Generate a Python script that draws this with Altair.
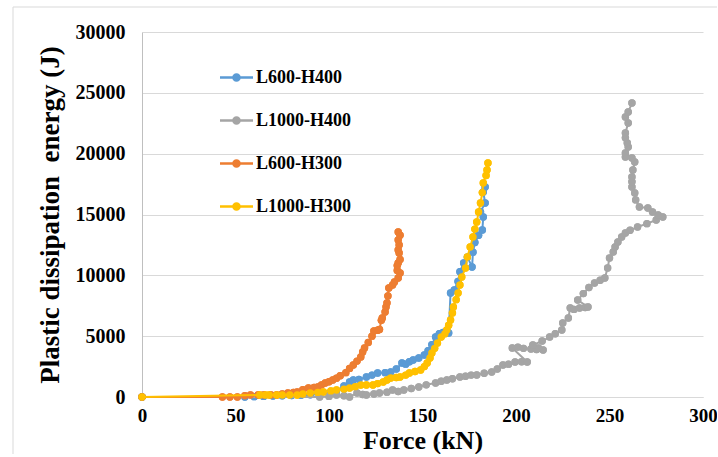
import altair as alt
import pandas as pd

series_names = ["L600-H400", "L1000-H400", "L600-H300", "L1000-H300"]
series_colors = ["#5B9BD5", "#A5A5A5", "#ED7D31", "#FFC000"]
y_ticks = [0, 5000, 10000, 15000, 20000, 25000, 30000]
x_ticks = [0, 50, 100, 150, 200, 250, 300]

# L600-H400 (blue)
blue_force = [0, 55, 60, 65, 70, 75, 80, 85, 90, 95, 100, 104, 108, 111, 113, 116, 120, 123, 126, 130,
              133, 136, 139, 141, 143, 145, 148, 151, 153, 155, 157, 159, 161, 163, 164, 165, 167, 169,
              170, 172, 174, 176.5, 177, 178, 180, 182, 182.5, 181, 183.5, 182.5, 183.5]
blue_energy = [0, 0, 30, 50, 80, 100, 120, 150, 180, 230, 300, 500, 900, 1230, 1400, 1450, 1640, 1800,
               1970, 2000, 2050, 2300, 2790, 2700, 2900, 3040, 3200, 3450, 3800, 4300, 4930, 5200, 5300,
               5340, 5260, 8550, 8800, 9500, 10300, 11010, 11500, 10690, 11900, 12700, 13300, 13730,
               14800, 15200, 15950, 16850, 17260]

# L1000-H400 (grey)
grey_force = [0, 95, 100, 104, 108, 111, 115, 118, 120, 124, 127, 131, 134, 137, 140, 144, 148, 152, 157,
              160, 163, 166, 170, 173, 176, 179, 183, 187, 190, 193, 196, 199.5, 203, 206, 198, 201, 204,
              208, 211, 214.5, 212, 209, 214, 218, 221, 224.5, 225, 228, 229, 231, 234, 237, 238.5, 233,
              236, 239, 242, 245, 247.5, 249, 250, 252, 253, 254.5, 256.5, 258.5, 261, 265, 270, 275,
              278.5, 276, 273, 270.5, 266, 264, 263.5, 262, 262, 262, 262.5, 263.5, 262, 258.5, 258.5,
              260, 259.5, 258.5, 258.5, 260, 258.5, 260, 262]
grey_energy = [0, 0, 50, 160, 100, 0, 330, 200, 160, 250, 330, 400, 575, 450, 575, 700, 820, 1000, 1150,
               1300, 1400, 1500, 1640, 1700, 1800, 1810, 1950, 2050, 2300, 2630, 2700, 2880, 2900, 2880,
               4030, 4100, 4000, 3950, 3900, 3860, 4030, 4270, 4600, 4930, 5200, 5510, 6080, 6490, 7320,
               7200, 7320, 7350, 7400, 7970, 8500, 9000, 9370, 9600, 9780, 10600, 11420, 11920, 12330,
               12740, 13150, 13480, 13700, 13970, 14250, 14550, 14790, 14960, 15200, 15530, 15620, 16200,
               16770, 17260, 17700, 18080, 18660, 19310, 19640, 19730, 20050, 20550, 20880, 21300, 21700,
               22520, 23010, 23420, 24160]

# L600-H300 (orange)
orange_force = [0, 43, 47, 51, 55, 58, 62, 65, 69, 72, 75, 78, 81, 83, 86, 89, 92, 94, 96, 98, 100, 102,
                104, 106, 109, 111, 113, 115, 117, 118, 119, 121, 123, 124, 126, 127, 128, 128.5, 130,
                130.5, 131, 131.5, 132, 134, 135, 137, 138, 136.5, 136.5, 137, 138, 137.5, 137, 137.5,
                137, 138, 137]
orange_energy = [0, 0, 0, 0, 100, 160, 160, 160, 160, 160, 250, 330, 380, 410, 600, 740, 780, 820, 1000,
                 1150, 1250, 1400, 1550, 1750, 2000, 2350, 2630, 2950, 3290, 3700, 4030, 4480, 5000, 5420,
                 5480, 5550, 6300, 6500, 6990, 7400, 7730, 8300, 8960, 9200, 9450, 9780, 10190, 10400,
                 10800, 11010, 11300, 11840, 12080, 12500, 12900, 13300, 13560]

# L1000-H300 (yellow)
yellow_force = [0, 63, 66, 68, 72, 75, 79, 83, 86, 90, 94, 97, 101, 104, 108, 111, 114, 117, 120, 123.5,
                126, 129, 131, 133, 136, 138, 141, 143, 146, 149, 151, 152.5, 154, 155, 156.5, 158, 160,
                162, 163, 164, 165, 166, 166.5, 168, 169, 170, 171, 173, 174, 175.5, 177, 178, 179, 180,
                181, 182, 182.5, 184, 184.5, 185]
yellow_energy = [0, 160, 160, 160, 160, 160, 160, 160, 250, 330, 380, 410, 500, 575, 650, 740, 850, 990,
                 990, 990, 1100, 1230, 1400, 1560, 1600, 1640, 1800, 1970, 2100, 2220, 2500, 2790, 3200,
                 3620, 4000, 4440, 4930, 5200, 5510, 5900, 6330, 6900, 7400, 8000, 8550, 9200, 9860,
                 10600, 11510, 12330, 13150, 13800, 14380, 15200, 15950, 16800, 17590, 18200, 18660, 19230]

series_data = [
    (series_names[0], blue_force, blue_energy),
    (series_names[1], grey_force, grey_energy),
    (series_names[2], orange_force, orange_energy),
    (series_names[3], yellow_force, yellow_energy),
]

rows = []
for name, xs, ys in series_data:
    for i, (xv, yv) in enumerate(zip(xs, ys)):
        rows.append({"series": name, "force": xv, "energy": yv, "idx": i})
df = pd.DataFrame(rows)

FONT = "Liberation Serif"

x_enc = alt.X(
    "force:Q",
    scale=alt.Scale(domain=[0, 300], nice=False),
    axis=alt.Axis(
        values=x_ticks, grid=False, ticks=False, domain=True, domainColor="#D9D9D9",
        labelFlush=False, labelOverlap=False,
        labelFont=FONT, labelFontWeight="bold", labelFontSize=19, labelColor="black",
        labelPadding=9, title="Force (kN)", titleFont=FONT, titleFontWeight="bold",
        titleFontSize=26, titleColor="black", titleBaseline="alphabetic", titleY=51,
        titleX=280.5, titleAlign="center",
    ),
)
y_enc = alt.Y(
    "energy:Q",
    scale=alt.Scale(domain=[0, 30000], nice=False),
    axis=alt.Axis(
        values=y_ticks, format="d", grid=True, gridColor="#D9D9D9", ticks=False,
        domain=True, domainColor="#BFBFBF", labelFlush=False, labelOverlap=False,
        labelFont=FONT, labelFontWeight="bold", labelFontSize=20, labelColor="black",
        labelPadding=17, title="Plastic dissipation\u00a0\u00a0energy (J)", titleFont=FONT,
        titleFontWeight="bold", titleFontSize=27, titleColor="black",
        titleAngle=270, titleBaseline="alphabetic", titleAlign="center",
        titleX=-84, titleY=182.5,
    ),
)

legend_symbol = ("M-1,-0.076 L1,-0.076 L1,0.076 L-1,0.076 Z "
                 "M-0.26,0 A0.26,0.26 0 1,1 0.26,0 A0.26,0.26 0 1,1 -0.26,0 Z")

frame_df = pd.DataFrame({"a": [0]})
frame_left = alt.Chart(frame_df).mark_rule(color="#D9D9D9", strokeWidth=1).encode(
    x=alt.value(-129), y=alt.value(-25), y2=alt.value(430)
)
frame_top = alt.Chart(frame_df).mark_rule(color="#D9D9D9", strokeWidth=1).encode(
    x=alt.value(-129), x2=alt.value(580), y=alt.value(-25)
)

legend_layer = alt.Chart(df).mark_point(filled=True, size=55, opacity=1).encode(
    x=x_enc, y=y_enc,
    color=alt.Color(
        "series:N",
        scale=alt.Scale(domain=series_names, range=series_colors),
        legend=alt.Legend(
            title=None, orient="none", legendX=78, legendY=29, padding=0,
            symbolType=legend_symbol, symbolSize=1089, symbolStrokeWidth=0,
            symbolOpacity=1, rowPadding=17, labelOffset=3,
            labelFont=FONT, labelFontWeight="bold", labelFontSize=18, labelColor="black",
            labelLimit=300,
        ),
    ),
)

layers = [frame_left, frame_top, legend_layer]
for name, col in zip(series_names, series_colors):
    base = alt.Chart(df).transform_filter(alt.datum.series == name)
    line = base.mark_line(color=col, strokeWidth=2).encode(
        x="force:Q", y="energy:Q", order="idx:Q"
    )
    pts = base.mark_point(filled=True, color=col, size=55, opacity=1).encode(
        x="force:Q", y="energy:Q"
    )
    layers += [line, pts]

chart = alt.layer(*layers).properties(
    width=561, height=365,
    autosize=alt.AutoSizeParams(type="none"),
    padding={"left": 142, "top": 32, "right": 14, "bottom": 57},
    background="white",
).configure_view(stroke=None)

chart.save("out.html", embed_options={"renderer": "svg", "actions": False})
